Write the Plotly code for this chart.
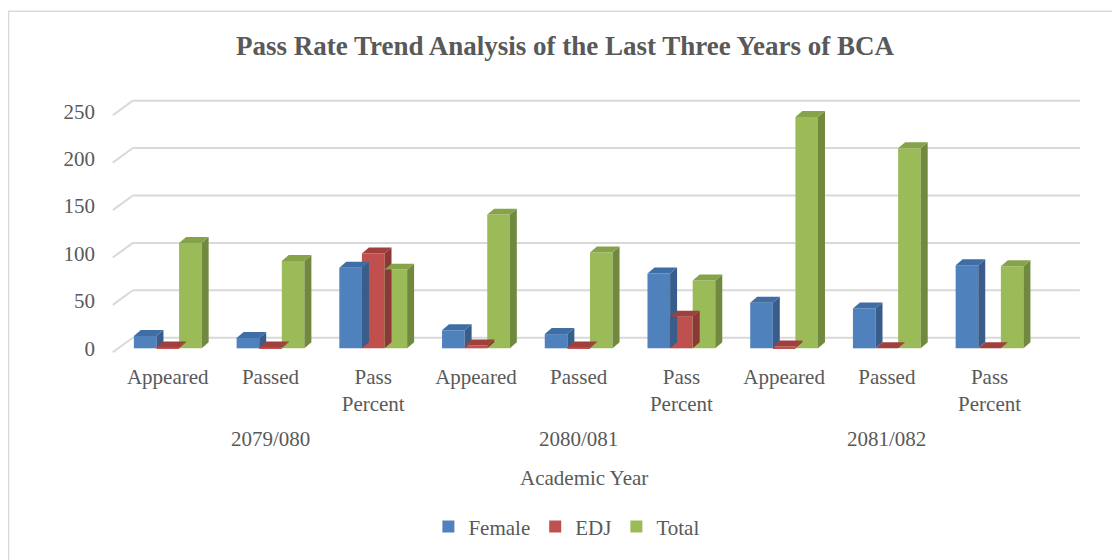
import plotly.graph_objects as go

# data
years = ["2079/080", "2080/081", "2081/082"]
measures = ["Appeared", "Passed", "Pass<br>Percent"]
female = [13, 11, 85, 19, 15, 79, 48, 42, 87.5]
edj = [1, 1, 100, 3, 1, 33.3, 2, 0, 0]
total = [111, 92, 83, 141, 101, 71.6, 244, 211, 86.5]
y_ticks = [0, 50, 100, 150, 200, 250]

SERIES = [
    ("Female", female, "#4F81BD", "#385D8A", "#3F6EA5"),
    ("EDJ", edj, "#C0504D", "#8C3836", "#A0403D"),
    ("Total", total, "#9BBB59", "#71893F", "#86A34A"),
]

FONT = "Liberation Serif, Times New Roman, serif"
GREY = "#595959"

BAR_W = 0.22
DX, DY = 0.068, 6.3          # bar depth (x in category units, y in value units)
WALL_DY = 11.2               # back wall offset of gridlines
FRONT_X, BACK_X = -0.535, -0.34

# the page body has an 8px margin, so the figure is drawn 8px in from the window edge
PAGE_OFF = 8
FIG_W, FIG_H = 1120 - PAGE_OFF, 560 - PAGE_OFF

xs = list(range(len(years) * len(measures)))
ticktext = measures * len(years)

fig = go.Figure()
shapes = []

# back-wall gridlines with the slanted floor stubs on the left
for t in y_ticks:
    shapes.append(dict(type="line", xref="x", yref="y", layer="below",
                       x0=BACK_X, x1=8.88, y0=t + WALL_DY, y1=t + WALL_DY,
                       line=dict(color="#D9D9D9", width=2)))
    shapes.append(dict(type="line", xref="x", yref="y", layer="below",
                       x0=FRONT_X, x1=BACK_X, y0=t - 4.2, y1=t + WALL_DY,
                       line=dict(color="#D9D9D9", width=2)))

for i, (name, vals, front, side, top) in enumerate(SERIES):
    off = -1.5 * BAR_W + i * BAR_W
    fig.add_trace(go.Bar(
        x=xs, y=vals, name=name, width=BAR_W, offset=off,
        marker=dict(color=front, line=dict(width=0)),
    ))
    # fake 3D: side and top faces of each column
    for x, v in zip(xs, vals):
        a = x + off
        b = a + BAR_W
        shapes.append(dict(
            type="path", xref="x", yref="y", layer="above", line=dict(width=0),
            fillcolor=side,
            path=f"M{b},0 L{b + DX},{DY} L{b + DX},{v + DY} L{b},{v} Z"))
        shapes.append(dict(
            type="path", xref="x", yref="y", layer="above", line=dict(width=0),
            fillcolor=top,
            path=f"M{a},{v} L{a + DX},{v + DY} L{b + DX},{v + DY} L{b},{v} Z"))

# plot-area geometry in window pixels, used to place the outer labels
PLOT_BOTTOM, PLOT_H = 357.5, 260.0
L, R = 101.2, 1082.0


def py(px):
    return (PLOT_BOTTOM - px) / PLOT_H


def pxx(px):
    return (px - L) / (R - L)


annotations = []
for k, yr in enumerate(years):
    annotations.append(dict(text=yr, x=k * 3 + 1, xref="x", y=py(444), yref="paper",
                            showarrow=False, yanchor="middle",
                            font=dict(family=FONT, size=21, color=GREY)))
annotations.append(dict(text="Academic Year", x=4.05, xref="x", y=py(483), yref="paper",
                        showarrow=False, yanchor="middle",
                        font=dict(family=FONT, size=21, color=GREY)))

# outer chart border
shapes.append(dict(type="rect", xref="paper", yref="paper",
                   x0=pxx(PAGE_OFF + 0.8), x1=pxx(1117), y0=py(570), y1=py(9.5),
                   line=dict(color="#D9D9D9", width=1.5)))

fig.update_layout(
    width=FIG_W, height=FIG_H,
    barmode="overlay",
    paper_bgcolor="white", plot_bgcolor="white",
    margin=dict(l=L - PAGE_OFF, r=1120 - R, t=PLOT_BOTTOM - PLOT_H - PAGE_OFF,
                b=560 - PLOT_BOTTOM),
    title=dict(text="<b>Pass Rate Trend Analysis of the Last Three Years of BCA</b>",
               x=(565 - PAGE_OFF) / FIG_W, xref="container", xanchor="center",
               y=1 - (46 - PAGE_OFF) / FIG_H, yanchor="middle",
               font=dict(family=FONT, size=27, color=GREY)),
    xaxis=dict(range=[-0.65, 8.9], tickmode="array", tickvals=xs, ticktext=ticktext,
               showgrid=False, zeroline=False, showline=False, ticks="",
               ticklabelstandoff=8,
               tickfont=dict(family=FONT, size=21, color=GREY)),
    yaxis=dict(range=[-6, 264], tickmode="array", tickvals=y_ticks,
               showgrid=False, zeroline=False, showline=False, ticks="",
               ticklabelstandoff=5,
               tickfont=dict(family=FONT, size=21, color=GREY)),
    legend=dict(orientation="h", x=pxx(567), xanchor="center", y=py(533), yanchor="middle",
                font=dict(family=FONT, size=21, color=GREY), itemwidth=30,
                traceorder="normal"),
    shapes=shapes,
    annotations=annotations,
)

fig.write_html("out.html")
